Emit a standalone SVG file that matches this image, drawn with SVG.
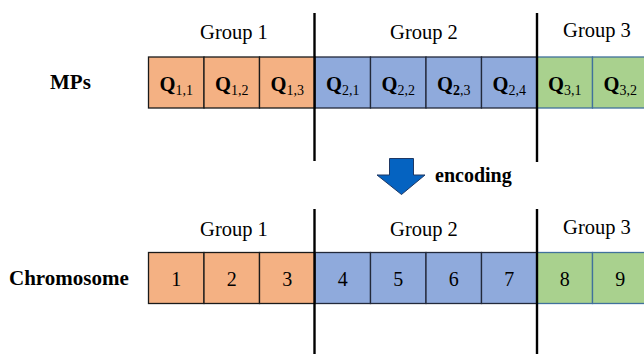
<svg xmlns="http://www.w3.org/2000/svg" width="644" height="354" viewBox="0 0 644 354">
<style>
text{font-family:"Liberation Serif","Times New Roman",serif;fill:#000}
.lbl{font-size:21px;font-weight:bold}
.grp{font-size:20.5px;text-anchor:middle}
.q{font-size:20.5px;font-weight:bold;text-anchor:middle}
.sub{font-size:14px;font-weight:normal}
.num{font-size:20px;text-anchor:middle}
.o{fill:#F4B183;stroke:#1a1a1a;stroke-width:1.3}
.b{fill:#8FAADC;stroke:#22293a;stroke-width:1.3}
.g{fill:#A9D18E;stroke:#41719C;stroke-width:1.3}
.div{stroke:#000;stroke-width:2.4;fill:none}
</style>
<g id="labels">
<text class="lbl" x="50" y="89">MPs</text>
<text class="lbl" x="9" y="285">Chromosome</text>
</g>
<g id="top-groups">
<text class="grp" x="234" y="39">Group 1</text>
<text class="grp" x="424" y="39">Group 2</text>
<text class="grp" x="597" y="37">Group 3</text>
</g>
<g id="mps-row">
<g id="q11"><rect class="o" x="148.5" y="57" width="55.5" height="51"/><text class="q" x="176.2" y="91">Q<tspan class="sub" dy="4">1,1</tspan></text></g>
<g id="q12"><rect class="o" x="204" y="57" width="55.5" height="51"/><text class="q" x="231.7" y="91">Q<tspan class="sub" dy="4">1,2</tspan></text></g>
<g id="q13"><rect class="o" x="259.5" y="57" width="55.5" height="51"/><text class="q" x="287.2" y="91">Q<tspan class="sub" dy="4">1,3</tspan></text></g>
<g id="q21"><rect class="b" x="315" y="57" width="55.5" height="51"/><text class="q" x="342.7" y="91">Q<tspan class="sub" dy="4">2,1</tspan></text></g>
<g id="q22"><rect class="b" x="370.5" y="57" width="55.5" height="51"/><text class="q" x="398.2" y="91">Q<tspan class="sub" dy="4">2,2</tspan></text></g>
<g id="q23"><rect class="b" x="426" y="57" width="55.5" height="51"/><text class="q" x="453.7" y="91">Q<tspan class="sub" dy="4"><tspan font-weight="bold">2</tspan>,3</tspan></text></g>
<g id="q24"><rect class="b" x="481.5" y="57" width="55.5" height="51"/><text class="q" x="509.2" y="91">Q<tspan class="sub" dy="4">2,4</tspan></text></g>
<g id="q31"><rect class="g" x="537" y="57" width="55.5" height="51"/><text class="q" x="564.7" y="91">Q<tspan class="sub" dy="4">3,1</tspan></text></g>
<g id="q32"><rect class="g" x="592.5" y="57" width="55.5" height="51"/><text class="q" x="620.2" y="91">Q<tspan class="sub" dy="4">3,2</tspan></text></g>
</g>
<g id="encoding">
<path d="M389.5,158.5 H413.5 V175 H425 L401.5,194.5 L377,175 H389.5 Z" fill="#0563C1" stroke="#1F3864" stroke-width="1"/>
<text class="lbl" x="435" y="182" style="font-size:20px">encoding</text>
</g>
<g id="bottom-groups">
<text class="grp" x="234" y="236">Group 1</text>
<text class="grp" x="424" y="236">Group 2</text>
<text class="grp" x="597" y="234">Group 3</text>
</g>
<g id="chromosome-row">
<g id="c1"><rect class="o" x="148.5" y="252.5" width="55.5" height="51"/><text class="num" x="176.2" y="286">1</text></g>
<g id="c2"><rect class="o" x="204" y="252.5" width="55.5" height="51"/><text class="num" x="231.7" y="286">2</text></g>
<g id="c3"><rect class="o" x="259.5" y="252.5" width="55.5" height="51"/><text class="num" x="287.2" y="286">3</text></g>
<g id="c4"><rect class="b" x="315" y="252.5" width="55.5" height="51"/><text class="num" x="342.7" y="286">4</text></g>
<g id="c5"><rect class="b" x="370.5" y="252.5" width="55.5" height="51"/><text class="num" x="398.2" y="286">5</text></g>
<g id="c6"><rect class="b" x="426" y="252.5" width="55.5" height="51"/><text class="num" x="453.7" y="286">6</text></g>
<g id="c7"><rect class="b" x="481.5" y="252.5" width="55.5" height="51"/><text class="num" x="509.2" y="286">7</text></g>
<g id="c8"><rect class="g" x="537" y="252.5" width="55.5" height="51"/><text class="num" x="564.7" y="286">8</text></g>
<g id="c9"><rect class="g" x="592.5" y="252.5" width="55.5" height="51"/><text class="num" x="620.2" y="286">9</text></g>
</g>
<g id="connectors">
<line class="div" x1="314.5" y1="13" x2="314.5" y2="161"/>
<line class="div" x1="537" y1="13" x2="537" y2="162"/>
<line class="div" x1="314.5" y1="209" x2="314.5" y2="354"/>
<line class="div" x1="537" y1="209" x2="537" y2="354"/>
</g>
</svg>
